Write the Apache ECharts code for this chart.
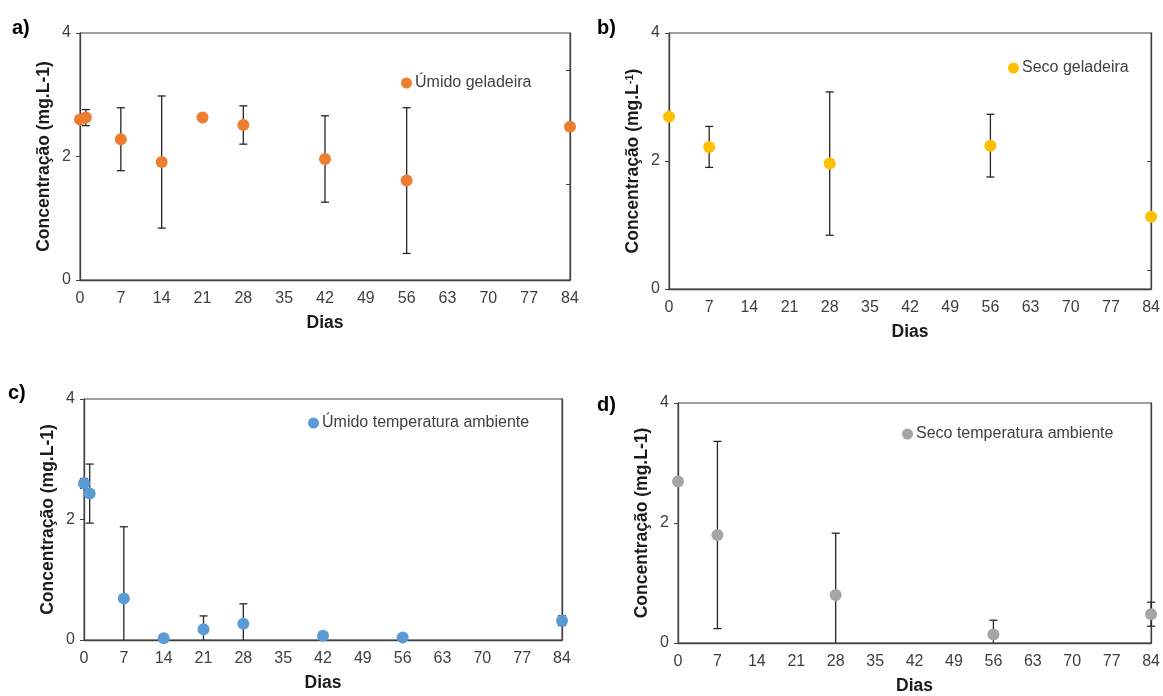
<!DOCTYPE html>
<html>
<head>
<meta charset="utf-8">
<script src="https://cdn.jsdelivr.net/npm/echarts@6/dist/echarts.min.js"></script>
<style>
  html, body { margin: 0; padding: 0; background: #fff; }
  #chart { width: 1163px; height: 696px; }
</style>
</head>
<body>
<div id="chart"></div>
<script>
// dias de coleta e concentrações (mg.L-1)
const diasA = [0, 1, 7, 14, 21, 28, 42, 56, 84];
const umidoGeladeira = [2.60, 2.63, 2.28, 1.91, 2.63, 2.51, 1.96, 1.61, 2.48];
const erroUmidoGeladeira = [0, 0.13, 0.51, 1.07, 0, 0.31, 0.70, 1.18, 0];

const diasB = [0, 7, 28, 56, 84];
const secoGeladeira = [2.69, 2.22, 1.96, 2.24, 1.13];
const erroSecoGeladeira = [0.03, 0.32, 1.12, 0.49, 0];

const diasC = [0, 1, 7, 14, 21, 28, 42, 56, 84];
const umidoAmbiente = [2.60, 2.43, 0.69, 0.03, 0.18, 0.27, 0.07, 0.04, 0.32];
const erroUmidoAmbiente = [0.08, 0.49, 1.19, 0, 0.22, 0.33, 0, 0, 0.08];

const diasD = [0, 7, 28, 56, 84];
const secoAmbiente = [2.69, 1.80, 0.80, 0.14, 0.48];
const erroSecoAmbiente = [0.03, 1.56, 1.03, 0.24, 0.20];

const xTicks = [0, 7, 14, 21, 28, 35, 42, 49, 56, 63, 70, 77, 84];
const yTicks = [0, 2, 4];

const FONT = 'Liberation Sans, Arial, sans-serif';
const AXIS = '#404040';

const paineis = [
  { nome: 'Úmido geladeira', cor: '#ED7D31', dias: diasA, vals: umidoGeladeira, erros: erroUmidoGeladeira,
    grid: { left: 80, top: 33, width: 490, height: 247 }, legenda: { left: 401, top: 75 },
    rotulo: { x: 12, y: 18, t: 'a)' }, ticksDir: [3.39, 1.55], sup: false },
  { nome: 'Seco geladeira', cor: '#FFC000', dias: diasB, vals: secoGeladeira, erros: erroSecoGeladeira,
    grid: { left: 669, top: 33, width: 489, height: 256 }, legenda: { left: 1008, top: 60 },
    rotulo: { x: 597, y: 18, t: 'b)' }, ticksDir: [1.99, 0.29], sup: true },
  { nome: 'Úmido temperatura ambiente', cor: '#5B9BD5', dias: diasC, vals: umidoAmbiente, erros: erroUmidoAmbiente,
    grid: { left: 84, top: 399, width: 478, height: 241 }, legenda: { left: 308, top: 415 },
    rotulo: { x: 8, y: 383, t: 'c)' }, ticksDir: [], sup: false },
  { nome: 'Seco temperatura ambiente', cor: '#A5A5A5', dias: diasD, vals: secoAmbiente, erros: erroSecoAmbiente,
    grid: { left: 678, top: 403, width: 474, height: 242 }, legenda: { left: 902, top: 426 },
    rotulo: { x: 597, y: 395, t: 'd)' }, ticksDir: [], sup: false }
];

function errorBar(params, api) {
  const x = api.value(0), lo = api.value(1), hi = api.value(2);
  if (hi - lo <= 0) return;
  const style = { stroke: '#262626', lineWidth: 1.3 };
  const top = api.coord([x, hi]);
  const bot = api.coord([x, Math.max(lo, 0)]);
  const w = 4;
  const children = [
    { type: 'line', shape: { x1: top[0], y1: top[1], x2: bot[0], y2: bot[1] }, style },
    { type: 'line', shape: { x1: top[0] - w, y1: top[1], x2: top[0] + w, y2: top[1] }, style }
  ];
  if (lo >= 0) {
    children.push({ type: 'line', shape: { x1: bot[0] - w, y1: bot[1], x2: bot[0] + w, y2: bot[1] }, style });
  }
  return { type: 'group', children };
}

const grid = [], xAxis = [], yAxis = [], series = [], legend = [], graphic = [];

paineis.forEach((p, i) => {
  grid.push(Object.assign({ show: true, borderColor: AXIS, borderWidth: 1, backgroundColor: 'transparent' }, p.grid));

  xAxis.push({
    type: 'value', gridIndex: i, min: 0, max: 84, interval: 7,
    name: 'Dias', nameLocation: 'middle', nameGap: 34,
    nameTextStyle: { fontFamily: FONT, fontWeight: 'bold', fontSize: 17.5, color: '#1a1a1a' },
    axisLine: { show: true, lineStyle: { color: AXIS, width: 1.3 } },
    axisTick: { show: false },
    axisLabel: { fontFamily: FONT, fontSize: 16, color: '#404040', margin: 11,
      customValues: xTicks, formatter: v => String(v) },
    splitLine: { show: false }
  });

  const nome = p.sup ? 'Concentração (mg.L{sup|-1})' : 'Concentração (mg.L-1)';
  yAxis.push({
    type: 'value', gridIndex: i, min: 0, max: 4, interval: 2,
    name: nome, nameLocation: 'middle', nameGap: 27, nameRotate: 90,
    nameTextStyle: { fontFamily: FONT, fontWeight: 'bold', fontSize: 17.5, color: '#1a1a1a',
      rich: { sup: { fontFamily: FONT, fontWeight: 'bold', fontSize: 11, color: '#1a1a1a', verticalAlign: 'top', padding: [0, 0, 6, 0] } } },
    axisLine: { show: true, lineStyle: { color: AXIS, width: 1.3 } },
    axisTick: { show: true, length: 4, lineStyle: { color: AXIS } },
    axisLabel: { fontFamily: FONT, fontSize: 16, color: '#404040', margin: 9,
      customValues: yTicks, formatter: v => String(v) },
    splitLine: { show: false }
  });
  yAxis.push({
    type: 'value', gridIndex: i, min: 0, max: 4, position: 'right',
    axisLine: { show: true, lineStyle: { color: AXIS, width: 1.3 } },
    axisTick: { show: p.ticksDir.length > 0, inside: true, length: 4, customValues: p.ticksDir, lineStyle: { color: AXIS } },
    axisLabel: { show: false },
    splitLine: { show: false }
  });

  series.push({
    type: 'custom', name: p.nome + ' erro', xAxisIndex: i, yAxisIndex: 2 * i,
    renderItem: errorBar, z: 2, silent: true,
    data: p.dias.map((d, k) => [d, p.vals[k] - p.erros[k], p.vals[k] + p.erros[k]])
  });
  series.push({
    type: 'scatter', name: p.nome, xAxisIndex: i, yAxisIndex: 2 * i,
    symbol: 'circle', symbolSize: 12, clip: false, z: 5,
    itemStyle: { color: p.cor, opacity: 1 },
    data: p.dias.map((d, k) => [d, p.vals[k]])
  });

  legend.push({
    data: [{ name: p.nome, icon: 'circle' }], left: p.legenda.left, top: p.legenda.top,
    itemWidth: 11, itemHeight: 11, itemGap: 4, selectedMode: false, padding: 0,
    itemStyle: { opacity: 1 },
    textStyle: { fontFamily: FONT, fontSize: 16, color: '#404040', padding: [0, 0, 0, -2] }
  });

  graphic.push({
    type: 'text', left: p.rotulo.x, top: p.rotulo.y,
    style: { text: p.rotulo.t, font: 'bold 20px ' + FONT, fill: '#000' }
  });
});

const chart = echarts.init(document.getElementById('chart'), null, { renderer: 'canvas' });
chart.setOption({
  backgroundColor: '#fff',
  animation: false,
  grid, xAxis, yAxis, series, legend, graphic
});
</script>
</body>
</html>
